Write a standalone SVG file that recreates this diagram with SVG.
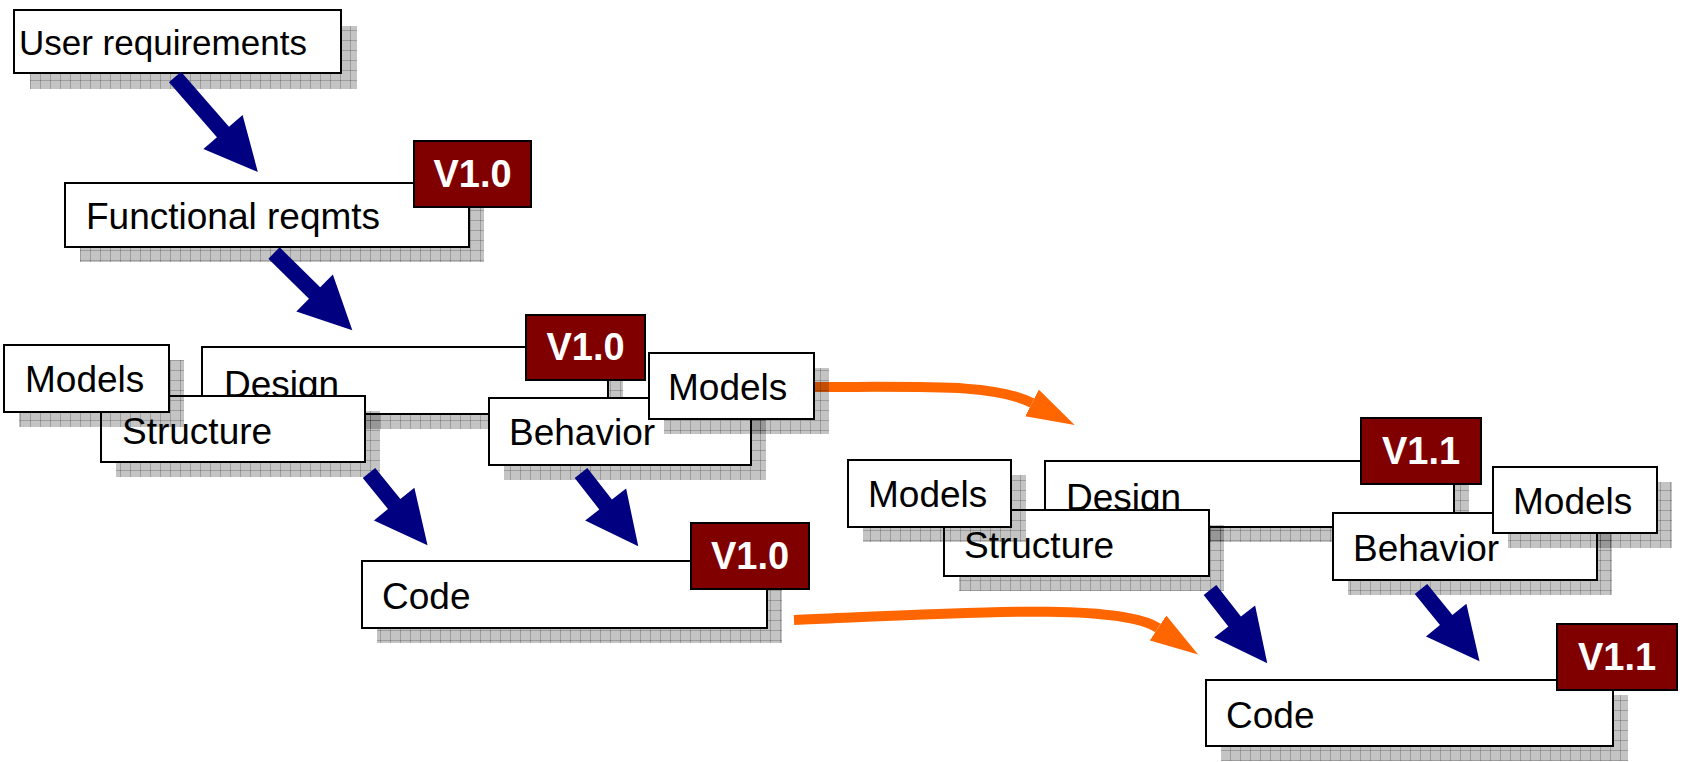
<svg xmlns="http://www.w3.org/2000/svg" xmlns:xlink="http://www.w3.org/1999/xlink" width="1686" height="762" viewBox="0 0 1686 762">
  <style>
    .box { fill: #ffffff; stroke: #000000; stroke-width: 2; }
    .shadow { fill: url(#hatch); }
    .badge { fill: #800000; stroke: #000000; stroke-width: 2; }
    .lbl { font-family: "Liberation Sans", Arial, Helvetica, sans-serif; font-size: 37px; fill: #000000; }
    .ver { font-family: "Liberation Sans", Arial, Helvetica, sans-serif; font-size: 38px; font-weight: bold; fill: #ffffff; text-anchor: middle; }
    .flow { fill: #000080; }
    .carry { fill: none; stroke: #ff6600; stroke-width: 10; marker-end: url(#orangeHead); }
  </style>
  <defs>
    <!-- grey grid shadow texture -->
    <pattern id="hatch" patternUnits="userSpaceOnUse" width="10" height="10">
      <rect width="10" height="10" fill="#000000" fill-opacity="0.23"/>
      <rect width="10" height="1" fill="#000000" fill-opacity="0.2"/>
      <rect width="1" height="10" fill="#000000" fill-opacity="0.2"/>
    </pattern>
    <marker id="orangeHead" markerUnits="userSpaceOnUse" viewBox="0 0 48 30" markerWidth="48" markerHeight="30" refX="0" refY="15" orient="auto">
      <path d="M0,0 L48,15 L0,30 Z" fill="#ff6600"/>
    </marker>
    <!-- block arrows, pointing along +x -->
    <path id="arrowLong" d="M0,-8 H73 V-26 L126,0 L73,26 V8 H0 Z"/>
    <path id="arrowMid" d="M0,-8 H57 V-26 L110,0 L57,26 V8 H0 Z"/>
    <path id="arrowShort" d="M0,-8 H40 V-26 L93,0 L40,26 V8 H0 Z"/>
  </defs>

  <rect width="1686" height="762" fill="#ffffff"/>

  <!-- version carry-over connectors -->
  <g id="connectors-carry">
    <path class="carry" d="M814,387 C930,387 995,384 1032,403"/>
    <path class="carry" d="M794,620 C980,612 1120,603 1158,628"/>
  </g>

  <g id="user-requirements">
    <rect class="shadow" x="30" y="26" width="327" height="63"/>
    <rect class="box" x="14" y="10" width="327" height="63"/>
    <text class="lbl" x="19" y="55" style="font-size:35px">User requirements</text>
  </g>

  <g id="functional-reqmts">
    <rect class="shadow" x="80" y="198" width="404" height="64"/>
    <rect class="box" x="65" y="183" width="404" height="64"/>
    <text class="lbl" x="86" y="229">Functional reqmts</text>
    <rect class="badge" x="414" y="141" width="117" height="66"/>
    <text class="ver" x="472.5" y="187">V1.0</text>
  </g>

  <!-- version 1.0 design -->
  <g id="design-v10">
    <rect class="shadow" x="217" y="362" width="406" height="67"/>
    <rect class="box" x="202" y="347" width="406" height="67"/>
    <text class="lbl" x="224" y="397">Design</text>
    <rect class="badge" x="526" y="315" width="119" height="65"/>
    <text class="ver" x="585.5" y="360">V1.0</text>
  </g>
  <g id="structure-v10">
    <rect class="shadow" x="116" y="411" width="264" height="66"/>
    <rect class="box" x="101" y="396" width="264" height="66"/>
    <text class="lbl" x="122" y="444">Structure</text>
  </g>
  <g id="models-structure-v10">
    <rect class="shadow" x="19" y="360" width="165" height="67"/>
    <rect class="box" x="4" y="345" width="165" height="67"/>
    <text class="lbl" x="25" y="392">Models</text>
  </g>
  <g id="behavior-v10">
    <rect class="shadow" x="504" y="413" width="262" height="67"/>
    <rect class="box" x="489" y="398" width="262" height="67"/>
    <text class="lbl" x="509" y="445">Behavior</text>
  </g>
  <g id="models-behavior-v10">
    <rect class="shadow" x="664" y="368" width="165" height="66"/>
    <rect class="box" x="649" y="353" width="165" height="66"/>
    <text class="lbl" x="668" y="400">Models</text>
  </g>
  <g id="code-v10">
    <rect class="shadow" x="377" y="576" width="405" height="67"/>
    <rect class="box" x="362" y="561" width="405" height="67"/>
    <text class="lbl" x="382" y="609">Code</text>
    <rect class="badge" x="691" y="523" width="118" height="66"/>
    <text class="ver" x="750" y="569">V1.0</text>
  </g>

  <!-- version 1.1 design -->
  <g id="design-v11">
    <rect class="shadow" x="1060" y="476" width="409" height="66"/>
    <rect class="box" x="1045" y="461" width="409" height="66"/>
    <text class="lbl" x="1066" y="510">Design</text>
    <rect class="badge" x="1361" y="418" width="120" height="66"/>
    <text class="ver" x="1421" y="464">V1.1</text>
  </g>
  <g id="structure-v11">
    <rect class="shadow" x="959" y="525" width="265" height="66"/>
    <rect class="box" x="944" y="510" width="265" height="66"/>
    <text class="lbl" x="964" y="558">Structure</text>
  </g>
  <g id="models-structure-v11">
    <rect class="shadow" x="863" y="475" width="163" height="67"/>
    <rect class="box" x="848" y="460" width="163" height="67"/>
    <text class="lbl" x="868" y="507">Models</text>
  </g>
  <g id="behavior-v11">
    <rect class="shadow" x="1348" y="528" width="264" height="67"/>
    <rect class="box" x="1333" y="513" width="264" height="67"/>
    <text class="lbl" x="1353" y="561">Behavior</text>
  </g>
  <g id="models-behavior-v11">
    <rect class="shadow" x="1508" y="482" width="164" height="66"/>
    <rect class="box" x="1493" y="467" width="164" height="66"/>
    <text class="lbl" x="1513" y="514">Models</text>
  </g>
  <g id="code-v11">
    <rect class="shadow" x="1221" y="695" width="407" height="66"/>
    <rect class="box" x="1206" y="680" width="407" height="66"/>
    <text class="lbl" x="1226" y="728">Code</text>
    <rect class="badge" x="1557" y="624" width="120" height="66"/>
    <text class="ver" x="1617" y="670">V1.1</text>
  </g>

  <!-- derivation connectors -->
  <g id="connectors-flow" class="flow">
    <use xlink:href="#arrowLong" transform="translate(175,77) rotate(48.9)"/>
    <use xlink:href="#arrowMid" transform="translate(274,253) rotate(44.6)"/>
    <use xlink:href="#arrowShort" transform="translate(369,473) rotate(51)"/>
    <use xlink:href="#arrowShort" transform="translate(581,473) rotate(52)"/>
    <use xlink:href="#arrowShort" transform="translate(1210,590) rotate(52)"/>
    <use xlink:href="#arrowShort" transform="translate(1421,589) rotate(51)"/>
  </g>
</svg>
